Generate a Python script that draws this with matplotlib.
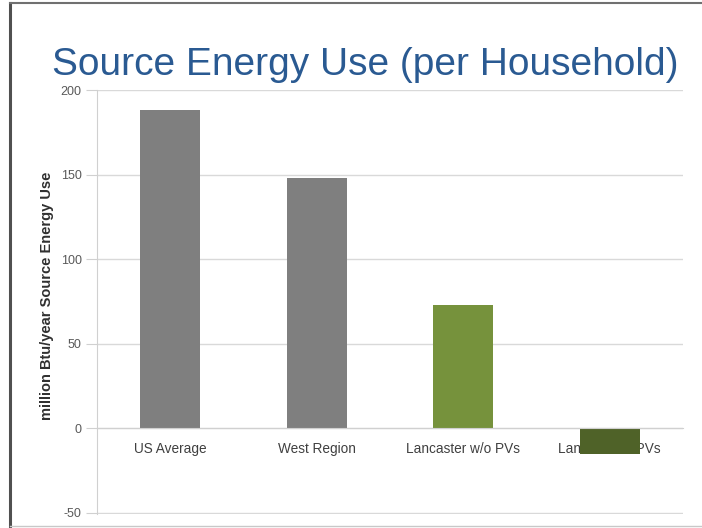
import matplotlib
matplotlib.use("Agg")
import matplotlib.pyplot as plt
from matplotlib.lines import Line2D

categories = ["US Average", "West Region", "Lancaster w/o PVs", "Lancaster w PVs"]
energy_use = [188, 148, 73, -15]
bar_colors = ["#7f7f7f", "#7f7f7f", "#76923c", "#4f6228"]
y_ticks = [-50, 0, 50, 100, 150, 200]

plt.rcParams["font.family"] = ["Liberation Sans", "DejaVu Sans"]
plt.rcParams["axes.unicode_minus"] = False

fig = plt.figure(figsize=(7.02, 5.28), dpi=100)
ax = fig.add_axes([0.138, 0.0265, 0.835, 0.803])

ax.set_axisbelow(True)
ax.bar(range(len(categories)), energy_use, width=0.41, color=bar_colors, zorder=2)

ax.set_xlim(-0.5, len(categories) - 0.5)
ax.set_ylim(-50.6, 200)
ax.set_yticks(y_ticks)
ax.yaxis.grid(True, color="#d9d9d9", linewidth=1)

# category axis sits on the zero line
ax.spines["bottom"].set_position(("data", 0))
ax.spines["bottom"].set_color("#d0d0d0")
ax.spines["left"].set_color("#d0d0d0")
ax.spines["top"].set_visible(False)
ax.spines["right"].set_visible(False)

ax.set_xticks(range(len(categories)))
ax.set_xticklabels(categories, fontsize=9.8, color="#404040")
ax.tick_params(axis="x", length=0, pad=10)
ax.tick_params(axis="y", length=8, color="#d0d0d0", labelsize=9, labelcolor="#595959", pad=3)

ax.set_ylabel("million Btu/year Source Energy Use", fontsize=10.5, fontweight="bold",
              color="#303030")
ax.yaxis.set_label_coords(-0.073, 0.515)

fig.text(0.52, 0.877, "Source Energy Use (per Household)", fontsize=28,
         color="#2a5a92", ha="center", va="center")

# slide frame
fig.add_artist(Line2D([0.0145, 0.0145], [0, 0.994], color="#505050", linewidth=2.2,
                      transform=fig.transFigure))
fig.add_artist(Line2D([0.0145, 1.0], [0.994, 0.994], color="#707070", linewidth=1.5,
                      transform=fig.transFigure))
fig.add_artist(Line2D([0.0145, 1.0], [0.004, 0.004], color="#c8c8c8", linewidth=1.0,
                      transform=fig.transFigure))

fig.savefig("out.png", dpi=100)
